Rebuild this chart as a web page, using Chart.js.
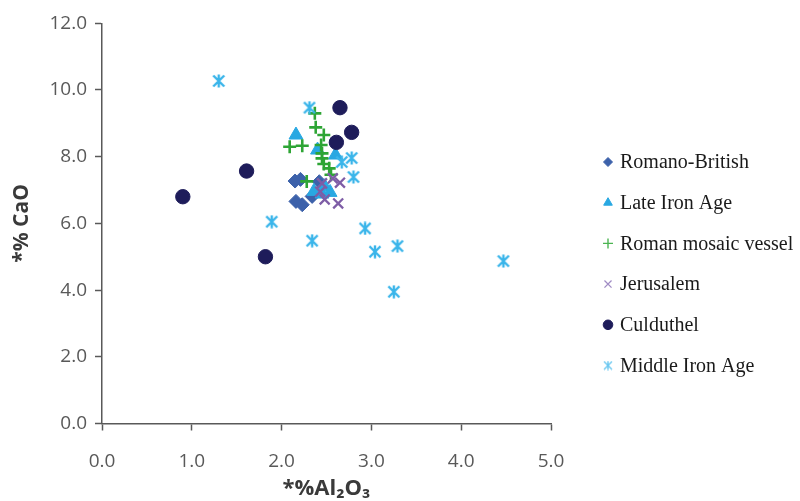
<!DOCTYPE html>
<html>
<head>
<meta charset="utf-8">
<script src="https://cdn.jsdelivr.net/npm/chart.js@4"></script>
<style>
html,body{margin:0;padding:0;background:#fff;}
#wrap{width:800px;height:501px;}
</style>
</head>
<body>
<div id="wrap"><canvas id="c" width="800" height="501"></canvas></div>
<script>
// ---- data ----
const seriesNames = ['Romano-British', 'Late Iron Age', 'Roman mosaic vessel', 'Jerusalem', 'Culduthel', 'Middle Iron Age'];

const romanoBritishAl2O3 = [2.15, 2.21, 2.42, 2.16, 2.23, 2.34];
const romanoBritishCaO   = [7.27, 7.32, 7.25, 6.66, 6.56, 6.81];

const lateIronAgeAl2O3 = [2.16, 2.40, 2.60, 2.36, 2.48, 2.54, 2.45];
const lateIronAgeCaO   = [8.65, 8.20, 8.05, 6.96, 7.10, 6.93, 6.88];

const romanMosaicAl2O3 = [2.37, 2.38, 2.47, 2.09, 2.23, 2.44, 2.45, 2.45, 2.47, 2.53, 2.55, 2.28];
const romanMosaicCaO   = [9.30, 8.88, 8.65, 8.30, 8.33, 8.35, 8.10, 7.95, 7.78, 7.65, 7.46, 7.26];

const jerusalemAl2O3 = [2.45, 2.57, 2.65, 2.43, 2.48, 2.63];
const jerusalemCaO   = [7.20, 7.35, 7.22, 6.95, 6.72, 6.60];

const culduthelAl2O3 = [2.65, 2.78, 2.61, 1.61, 0.90, 1.82];
const culduthelCaO   = [9.47, 8.73, 8.43, 7.57, 6.80, 5.00];

const middleIronAgeAl2O3 = [1.30, 2.31, 2.78, 2.67, 2.80, 1.89, 2.34, 2.93, 3.04, 3.29, 3.25, 4.47];
const middleIronAgeCaO   = [10.27, 9.47, 7.96, 7.84, 7.39, 6.05, 5.48, 5.85, 5.15, 5.32, 3.95, 4.87];

const xTickValues = [0, 1, 2, 3, 4, 5];
const yTickValues = [0, 2, 4, 6, 8, 10, 12];

// ---- helpers ----
function pts(xs, ys) { return xs.map((x, i) => ({ x: x, y: ys[i] })); }

function makeStar(size, color, lw) {
  const c = document.createElement('canvas');
  c.width = size; c.height = size;
  const g = c.getContext('2d');
  g.strokeStyle = color; g.lineWidth = lw; g.lineCap = 'butt';
  const p = lw / 2 + 0.3, q = size - p, m = size / 2;
  g.beginPath();
  g.moveTo(p, p); g.lineTo(q, q);
  g.moveTo(q, p); g.lineTo(p, q);
  g.moveTo(m, 0.5); g.lineTo(m, size - 0.5);
  g.stroke();
  return c;
}

const colRB = '#3c61aa', colLIA = '#29a8e2', colRM = '#2ea535', colJ = '#7e5da6', colC = '#1e1c5a', colMIA = '#3ab5ea';
const starBig = makeStar(14, colMIA, 2.4);
const starSmall = makeStar(10, '#6cc8f0', 1.4);

const datasets = [
  { label: seriesNames[0], data: pts(romanoBritishAl2O3, romanoBritishCaO), pointStyle: 'rectRot', pointRadius: 7,
    backgroundColor: colRB, borderColor: colRB, borderWidth: 1, order: 10,
    lg: { pointStyle: 'rectRot', radius: 4.5, fill: colRB, stroke: colRB, lw: 1 } },
  { label: seriesNames[1], data: pts(lateIronAgeAl2O3, lateIronAgeCaO), pointStyle: 'triangle', pointRadius: 8,
    backgroundColor: colLIA, borderColor: colLIA, borderWidth: 1, order: 9,
    lg: { pointStyle: 'triangle', radius: 5, fill: colLIA, stroke: colLIA, lw: 1 } },
  { label: seriesNames[2], data: pts(romanMosaicAl2O3, romanMosaicCaO), pointStyle: 'cross', pointRadius: 6.5,
    backgroundColor: colRM, borderColor: colRM, borderWidth: 2.6, order: 8,
    lg: { pointStyle: 'cross', radius: 5, fill: '#4cb552', stroke: '#4cb552', lw: 1.4 } },
  { label: seriesNames[3], data: pts(jerusalemAl2O3, jerusalemCaO), pointStyle: 'crossRot', pointRadius: 7,
    backgroundColor: colJ, borderColor: colJ, borderWidth: 2.3, order: 7,
    lg: { pointStyle: 'crossRot', radius: 5, fill: '#a08cc4', stroke: '#a08cc4', lw: 1.3 } },
  { label: seriesNames[4], data: pts(culduthelAl2O3, culduthelCaO), pointStyle: 'circle', pointRadius: 7.2,
    backgroundColor: colC, borderColor: colC, borderWidth: 1, order: 6,
    lg: { pointStyle: 'circle', radius: 4.8, fill: colC, stroke: colC, lw: 1 } },
  { label: seriesNames[5], data: pts(middleIronAgeAl2O3, middleIronAgeCaO), pointStyle: starBig, pointRadius: 7,
    backgroundColor: colMIA, borderColor: colMIA, borderWidth: 1, order: 5,
    lg: { pointStyle: starSmall, radius: 5, fill: colMIA, stroke: colMIA, lw: 1 } }
];
datasets.forEach(d => { d.showLine = false; d.pointHoverRadius = d.pointRadius; });

// custom legend drawn from the datasets
const sideLegend = {
  id: 'sideLegend',
  afterDraw(chart) {
    const ctx = chart.ctx;
    const x0 = 608, tx = 620, y0 = 162, step = 40.7;
    ctx.save();
    ctx.font = '20px "Liberation Serif"';
    ctx.textBaseline = 'middle';
    ctx.textAlign = 'left';
    chart.data.datasets.forEach((ds, i) => {
      const y = y0 + i * step;
      const lg = ds.lg;
      ctx.fillStyle = lg.fill; ctx.strokeStyle = lg.stroke; ctx.lineWidth = lg.lw;
      Chart.helpers.drawPoint(ctx, { pointStyle: lg.pointStyle, radius: lg.radius, rotation: 0, borderWidth: lg.lw }, x0, y);
      ctx.fillStyle = '#1a1a1a';
      ctx.fillText(ds.label, tx, y + 1);
    });
    ctx.restore();
  }
};

const axisCol = '#595959';
new Chart(document.getElementById('c'), {
  type: 'scatter',
  data: { datasets: datasets },
  options: {
    responsive: false,
    devicePixelRatio: 1,
    animation: false,
    events: [],
    layout: { padding: { left: 0, top: 23.3, right: 249, bottom: 0 } },
    plugins: { legend: { display: false }, tooltip: { enabled: false } },
    scales: {
      x: {
        type: 'linear', min: 0, max: 5,
        afterBuildTicks: s => { s.ticks = xTickValues.map(v => ({ value: v })); },
        afterFit: s => { s.height = 77.5; },
        ticks: { callback: v => Number(v).toFixed(1), font: { family: 'Open Sans', size: 19 }, color: axisCol, padding: 20 },
        grid: { drawOnChartArea: false, tickLength: 7, color: axisCol, tickColor: axisCol, tickWidth: 1.5 },
        border: { color: axisCol, width: 1.5 },
        title: { display: true, text: '*%Al₂O₃', font: { family: 'Open Sans', size: 22, weight: 'bold' }, color: '#3a3a3a', padding: { top: 0, bottom: -1 } }
      },
      y: {
        type: 'linear', min: 0, max: 12,
        afterBuildTicks: s => { s.ticks = yTickValues.map(v => ({ value: v })); },
        afterFit: s => { s.width = 102; },
        ticks: { callback: v => Number(v).toFixed(1), font: { family: 'Open Sans', size: 19 }, color: axisCol, padding: 8 },
        grid: { drawOnChartArea: false, tickLength: 7, color: axisCol, tickColor: axisCol, tickWidth: 1.5 },
        border: { color: axisCol, width: 1.5 },
        title: { display: true, text: '*% CaO', font: { family: 'Open Sans', size: 21, weight: 'bold' }, color: '#3a3a3a', padding: { top: 9, bottom: 0 } }
      }
    }
  },
  plugins: [sideLegend]
});
</script>
</body>
</html>
